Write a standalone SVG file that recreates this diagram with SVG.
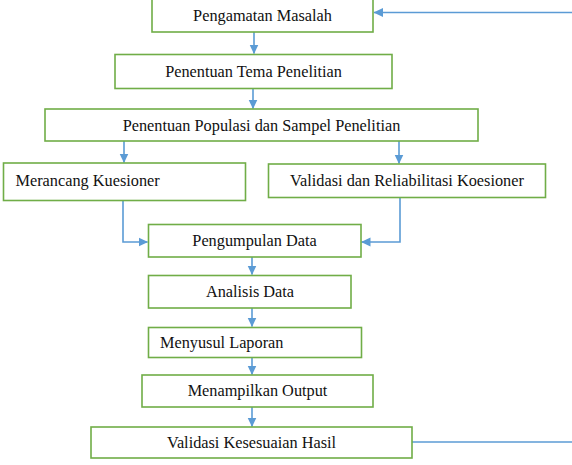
<svg xmlns="http://www.w3.org/2000/svg" width="572" height="465" viewBox="0 0 572 465">
<style>
.box{fill:#fff;stroke:#70AD47;stroke-width:1.6}
.t{font-family:"Liberation Serif","Times New Roman",serif;font-size:16.3px;fill:#111}
.c{text-anchor:middle}
.ln{fill:none;stroke:#5B9BD5;stroke-width:1.6}
</style>
<defs>
<marker id="ah" markerUnits="userSpaceOnUse" markerWidth="10" markerHeight="10" viewBox="0 0 10 10" refX="9" refY="5" orient="auto">
<path d="M0,0.5 L9.5,5 L0,9.5 Z" fill="#5B9BD5"/>
</marker>
</defs>
<rect width="572" height="465" fill="#fff"/>
<g id="connectors">
<path class="ln" d="M572,12.5 H374" marker-end="url(#ah)"/>
<path class="ln" d="M254,32 V53.5" marker-end="url(#ah)"/>
<path class="ln" d="M253,88 V108.5" marker-end="url(#ah)"/>
<path class="ln" d="M124,141 V162.5" marker-end="url(#ah)"/>
<path class="ln" d="M399,141 V163.5" marker-end="url(#ah)"/>
<path class="ln" d="M123,201 V242 H147.5" marker-end="url(#ah)"/>
<path class="ln" d="M400,198 V242 H361.5" marker-end="url(#ah)"/>
<path class="ln" d="M252,257 V274.5" marker-end="url(#ah)"/>
<path class="ln" d="M252,308 V326.5" marker-end="url(#ah)"/>
<path class="ln" d="M252,358 V374.5" marker-end="url(#ah)"/>
<path class="ln" d="M252,407 V426.5" marker-end="url(#ah)"/>
<path class="ln" d="M412,442 H572"/>
</g>
<g id="n1"><rect class="box" x="152" y="-1" width="221" height="33"/><text class="t c" x="262.5" y="21">Pengamatan Masalah</text></g>
<g id="n2"><rect class="box" x="115" y="54.5" width="277" height="34"/><text class="t c" x="253.5" y="76.5">Penentuan Tema Penelitian</text></g>
<g id="n3"><rect class="box" x="45" y="109" width="433" height="32"/><text class="t c" x="261.5" y="130.5">Penentuan Populasi dan Sampel Penelitian</text></g>
<g id="n4"><rect class="box" x="3.5" y="163" width="242" height="37.5"/><text class="t" x="15.5" y="185.5">Merancang Kuesioner</text></g>
<g id="n5"><rect class="box" x="268.5" y="164" width="277" height="33.5"/><text class="t c" x="407" y="185.5">Validasi dan Reliabilitasi Koesioner</text></g>
<g id="n6"><rect class="box" x="148.5" y="224.5" width="212.5" height="32.5"/><text class="t c" x="254.5" y="245.5">Pengumpulan Data</text></g>
<g id="n7"><rect class="box" x="148.5" y="275.5" width="202.5" height="32.5"/><text class="t c" x="250" y="296.5">Analisis Data</text></g>
<g id="n8"><rect class="box" x="148.5" y="327.5" width="213" height="30"/><text class="t" x="160" y="348">Menyusul Laporan</text></g>
<g id="n9"><rect class="box" x="142" y="375" width="231" height="32"/><text class="t c" x="257.5" y="396">Menampilkan Output</text></g>
<g id="n10"><rect class="box" x="91" y="427" width="321" height="31"/><text class="t c" x="251.5" y="447.5">Validasi Kesesuaian Hasil</text></g>
</svg>
